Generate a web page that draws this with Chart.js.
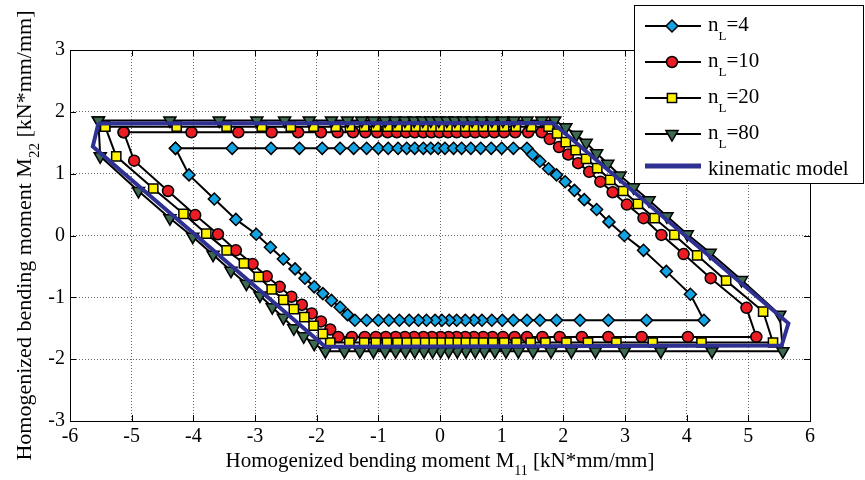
<!DOCTYPE html>
<html>
<head>
<meta charset="utf-8">
<title>Homogenized bending moment loops</title>
<script src="https://cdn.jsdelivr.net/npm/chart.js@4.4.1/dist/chart.umd.min.js"></script>
<style>
  html, body { margin: 0; padding: 0; background: #fff; }
  #wrap { width: 865px; height: 480px; }
</style>
</head>
<body>
<div id="wrap"><canvas id="loops" width="865" height="480"></canvas></div>
<script>
// axis ticks
const xTicks = [-6, -5, -4, -3, -2, -1, 0, 1, 2, 3, 4, 5, 6];
const yTicks = [-3, -2, -1, 0, 1, 2, 3];

// loops, [M11, M22]
const nL4 = [
  [-4.29,1.41],[-3.37,1.41],[-2.74,1.41],[-2.28,1.41],[-1.91,1.41],[-1.62,1.41],[-1.40,1.41],[-1.19,1.41],[-1.00,1.41],
  [-0.84,1.41],[-0.68,1.41],[-0.54,1.41],[-0.41,1.41],[-0.27,1.41],[-0.15,1.41],[-0.03,1.41],[0.08,1.41],[0.22,1.41],
  [0.35,1.41],[0.50,1.41],[0.66,1.41],[0.83,1.41],[1.00,1.41],[1.19,1.41],[1.41,1.41],
  [1.50,1.31],[1.62,1.20],[1.76,1.08],[1.89,0.98],[2.03,0.87],[2.18,0.73],[2.34,0.58],[2.54,0.42],[2.74,0.22],
  [2.99,0.00],[3.30,-0.24],[3.67,-0.58],[4.06,-0.95],[4.28,-1.37],
  [3.35,-1.37],[2.73,-1.37],[2.27,-1.37],[1.89,-1.37],[1.62,-1.37],[1.41,-1.37],[1.19,-1.37],[1.01,-1.37],[0.84,-1.37],
  [0.68,-1.37],[0.55,-1.37],[0.41,-1.37],[0.27,-1.37],[0.15,-1.37],[0.03,-1.37],[-0.08,-1.37],[-0.22,-1.37],[-0.35,-1.37],
  [-0.50,-1.37],[-0.66,-1.37],[-0.83,-1.37],[-1.00,-1.37],[-1.19,-1.37],[-1.38,-1.37],
  [-1.50,-1.28],[-1.62,-1.16],[-1.76,-1.05],[-1.90,-0.94],[-2.04,-0.83],[-2.19,-0.69],[-2.35,-0.54],[-2.54,-0.38],
  [-2.75,-0.19],[-2.98,0.02],[-3.31,0.26],[-3.66,0.59],[-4.07,0.98],[-4.29,1.41]
];

const nL10 = [
  [-5.13,1.67],[-4.03,1.67],[-3.27,1.67],[-2.73,1.67],[-2.30,1.67],[-1.93,1.67],[-1.66,1.67],[-1.41,1.67],[-1.21,1.67],
  [-1.02,1.67],[-0.85,1.67],[-0.70,1.67],[-0.55,1.67],[-0.41,1.67],[-0.27,1.67],[-0.14,1.67],[-0.01,1.67],[0.13,1.67],
  [0.27,1.67],[0.42,1.67],[0.57,1.67],[0.72,1.67],[0.88,1.67],[1.04,1.67],[1.22,1.67],[1.43,1.67],[1.65,1.67],
  [1.78,1.56],[1.93,1.43],[2.08,1.31],[2.24,1.17],[2.42,1.03],[2.60,0.87],[2.80,0.70],[3.03,0.50],[3.30,0.28],
  [3.59,0.01],[3.95,-0.30],[4.39,-0.69],[4.97,-1.17],[5.13,-1.64],
  [4.02,-1.64],[3.27,-1.64],[2.73,-1.64],[2.30,-1.64],[1.94,-1.64],[1.66,-1.64],[1.41,-1.64],[1.21,-1.64],[1.02,-1.64],
  [0.85,-1.64],[0.70,-1.64],[0.55,-1.64],[0.41,-1.64],[0.27,-1.64],[0.14,-1.64],[0.01,-1.64],[-0.13,-1.64],[-0.27,-1.64],
  [-0.42,-1.64],[-0.57,-1.64],[-0.72,-1.64],[-0.88,-1.64],[-1.04,-1.64],[-1.22,-1.64],[-1.43,-1.64],[-1.65,-1.64],
  [-1.78,-1.52],[-1.93,-1.39],[-2.08,-1.26],[-2.24,-1.12],[-2.41,-0.99],[-2.60,-0.83],[-2.81,-0.66],[-3.04,-0.46],
  [-3.31,-0.24],[-3.60,0.02],[-3.97,0.33],[-4.41,0.72],[-4.96,1.21],[-5.13,1.67]
];

const nL20 = [
  [-5.43,1.76],[-4.27,1.76],[-3.46,1.76],[-2.89,1.76],[-2.42,1.76],[-2.05,1.76],[-1.69,1.76],[-1.46,1.76],[-1.23,1.76],
  [-1.04,1.76],[-0.85,1.76],[-0.69,1.76],[-0.54,1.76],[-0.39,1.76],[-0.25,1.76],[-0.12,1.76],[0.01,1.76],[0.14,1.76],
  [0.27,1.76],[0.41,1.76],[0.55,1.76],[0.70,1.76],[0.86,1.76],[1.04,1.76],[1.23,1.76],[1.48,1.76],[1.76,1.76],
  [1.90,1.65],[2.04,1.51],[2.20,1.38],[2.37,1.24],[2.55,1.09],[2.76,0.90],[2.97,0.72],[3.21,0.51],[3.48,0.28],
  [3.80,0.01],[4.17,-0.32],[4.64,-0.73],[5.24,-1.23],[5.40,-1.73],
  [4.24,-1.73],[3.45,-1.73],[2.86,-1.73],[2.40,-1.73],[2.05,-1.73],[1.71,-1.73],[1.47,-1.73],[1.24,-1.73],[1.04,-1.73],
  [0.86,-1.73],[0.70,-1.73],[0.55,-1.73],[0.41,-1.73],[0.27,-1.73],[0.14,-1.73],[0.01,-1.73],[-0.12,-1.73],[-0.25,-1.73],
  [-0.39,-1.73],[-0.54,-1.73],[-0.69,-1.73],[-0.86,-1.73],[-1.04,-1.73],[-1.23,-1.73],[-1.47,-1.73],[-1.78,-1.73],
  [-1.90,-1.59],[-2.05,-1.46],[-2.20,-1.32],[-2.37,-1.19],[-2.54,-1.04],[-2.73,-0.87],[-2.94,-0.67],[-3.18,-0.45],
  [-3.46,-0.24],[-3.79,0.03],[-4.16,0.35],[-4.65,0.76],[-5.25,1.28],[-5.43,1.76]
];

const nL80 = [
  [-5.54,1.86],[-4.38,1.86],[-3.58,1.86],[-2.97,1.86],[-2.52,1.86],[-2.12,1.86],[-1.76,1.86],[-1.50,1.86],[-1.27,1.86],
  [-1.08,1.86],[-0.89,1.86],[-0.73,1.86],[-0.57,1.86],[-0.42,1.86],[-0.28,1.86],[-0.15,1.86],[-0.02,1.86],[0.11,1.86],
  [0.24,1.86],[0.38,1.86],[0.52,1.86],[0.68,1.86],[0.84,1.86],[1.02,1.86],[1.20,1.86],[1.41,1.86],[1.65,1.86],[1.86,1.86],
  [2.04,1.75],[2.21,1.63],[2.37,1.50],[2.54,1.33],[2.72,1.16],[2.92,0.97],[3.14,0.78],[3.39,0.57],[3.68,0.31],
  [4.01,0.02],[4.38,-0.28],[4.89,-0.72],[5.51,-1.28],[5.56,-1.87],
  [4.41,-1.87],[3.58,-1.87],[2.99,-1.87],[2.52,-1.87],[2.13,-1.87],[1.80,-1.87],[1.51,-1.87],[1.27,-1.87],[1.07,-1.87],
  [0.89,-1.87],[0.72,-1.87],[0.57,-1.87],[0.42,-1.87],[0.28,-1.87],[0.14,-1.87],[0.01,-1.87],[-0.12,-1.87],[-0.26,-1.87],
  [-0.41,-1.87],[-0.56,-1.87],[-0.72,-1.87],[-0.89,-1.87],[-1.08,-1.87],[-1.30,-1.87],[-1.55,-1.87],[-1.86,-1.87],
  [-2.04,-1.75],[-2.21,-1.63],[-2.37,-1.50],[-2.54,-1.33],[-2.72,-1.16],[-2.92,-0.97],[-3.14,-0.78],[-3.39,-0.57],
  [-3.68,-0.31],[-4.01,-0.02],[-4.38,0.28],[-4.89,0.72],[-5.51,1.28],[-5.54,1.86]
];

const kinematic = [
  [-5.54,1.81],[1.83,1.82],[5.65,-1.42],[5.54,-1.78],[-1.86,-1.80],[-5.63,1.44],[-5.54,1.81]
];

const serif = '"Liberation Serif", "Times New Roman", serif';

// legend rows: [main text, subscript, rest, style key]
const legendRows = [
  ['n', 'L', '=4', 'n4'],
  ['n', 'L', '=10', 'n10'],
  ['n', 'L', '=20', 'n20'],
  ['n', 'L', '=80', 'n80'],
  ['kinematic model', '', '', 'kin']
];

const markers = {
  n4:  { pointStyle: 'rectRot',  radius: 6,   rotation: 0,   fill: '#12a4e3' },
  n10: { pointStyle: 'circle',   radius: 5.5, rotation: 0,   fill: '#ec1c24' },
  n20: { pointStyle: 'rect',     radius: 6.5, rotation: 0,   fill: '#fff200' },
  n80: { pointStyle: 'triangle', radius: 7,   rotation: 180, fill: '#3c6b50' }
};
const kinColor = '#2e3192';

function toPoints(pairs) {
  return pairs.map(p => ({ x: p[0], y: p[1] }));
}

function loopDataset(pairs, key, order) {
  const m = markers[key];
  return {
    data: toPoints(pairs),
    showLine: true,
    borderColor: '#000',
    borderWidth: 2,
    pointStyle: m.pointStyle,
    pointRadius: m.radius,
    pointRotation: m.rotation,
    pointBackgroundColor: m.fill,
    pointBorderColor: '#000',
    pointBorderWidth: 1.5,
    order: order
  };
}

// draws "text" with optional subscript, returns the width used
function richText(ctx, main, sub, rest, x, y, size, subSize, subDrop) {
  ctx.font = size + 'px ' + serif;
  const w1 = ctx.measureText(main).width;
  ctx.font = subSize + 'px ' + serif;
  const w2 = ctx.measureText(sub).width;
  ctx.font = size + 'px ' + serif;
  const w3 = ctx.measureText(rest).width;
  return {
    width: w1 + w2 + w3,
    draw() {
      ctx.textAlign = 'left';
      ctx.textBaseline = 'alphabetic';
      ctx.font = size + 'px ' + serif;
      ctx.fillText(main, x, y);
      ctx.font = subSize + 'px ' + serif;
      ctx.fillText(sub, x + w1, y + subDrop);
      ctx.font = size + 'px ' + serif;
      ctx.fillText(rest, x + w1 + w2, y);
    }
  };
}

const framePlugin = {
  id: 'frame',
  afterDatasetsDraw(chart) {
    const { ctx, chartArea: a, scales } = chart;
    ctx.save();
    ctx.strokeStyle = '#000';
    ctx.lineWidth = 1;
    ctx.strokeRect(a.left + 0.5, a.top + 0.5, a.right - a.left, a.bottom - a.top);
    ctx.beginPath();
    xTicks.forEach(v => {
      const px = Math.round(scales.x.getPixelForValue(v)) + 0.5;
      ctx.moveTo(px, a.bottom); ctx.lineTo(px, a.bottom - 6);
      ctx.moveTo(px, a.top); ctx.lineTo(px, a.top + 6);
    });
    yTicks.forEach(v => {
      const py = Math.round(scales.y.getPixelForValue(v)) + 0.5;
      ctx.moveTo(a.left, py); ctx.lineTo(a.left + 6, py);
      ctx.moveTo(a.right, py); ctx.lineTo(a.right - 6, py);
    });
    ctx.stroke();
    ctx.restore();
  },
  afterDraw(chart) {
    const { ctx, chartArea: a } = chart;
    ctx.save();
    ctx.fillStyle = '#000';

    // x axis title
    const cx = (a.left + a.right) / 2;
    let t = richText(ctx, 'Homogenized bending moment M', '11', ' [kN*mm/mm]', 0, 0, 21, 14, 8);
    t = richText(ctx, 'Homogenized bending moment M', '11', ' [kN*mm/mm]', cx - t.width / 2, 467, 21, 14, 8);
    t.draw();

    // y axis title
    const cy = (a.top + a.bottom) / 2;
    ctx.save();
    ctx.translate(31, cy);
    ctx.rotate(-Math.PI / 2);
    let u = richText(ctx, 'Homogenized bending moment M', '22', ' [kN*mm/mm]', 0, 0, 22, 15, 8);
    u = richText(ctx, 'Homogenized bending moment M', '22', ' [kN*mm/mm]', -u.width / 2, 0, 22, 15, 8);
    u.draw();
    ctx.restore();

    // legend box
    const lx = 634, ly = 5, lw = 229, lh = 178;
    ctx.fillStyle = '#fff';
    ctx.fillRect(lx, ly, lw, lh);
    ctx.strokeStyle = '#000';
    ctx.lineWidth = 1;
    ctx.strokeRect(lx + 0.5, ly + 0.5, lw, lh);

    const rowY = [26, 62, 98, 134, 166];
    legendRows.forEach((row, i) => {
      const yy = rowY[i];
      const key = row[3];
      ctx.beginPath();
      ctx.moveTo(645, yy);
      ctx.lineTo(701, yy);
      if (key === 'kin') {
        ctx.strokeStyle = kinColor;
        ctx.lineWidth = 5;
      } else {
        ctx.strokeStyle = '#000';
        ctx.lineWidth = 2;
      }
      ctx.stroke();
      if (key !== 'kin') {
        const m = markers[key];
        ctx.fillStyle = m.fill;
        ctx.strokeStyle = '#000';
        ctx.lineWidth = 1.5;
        Chart.helpers.drawPoint(ctx, {
          pointStyle: m.pointStyle, radius: m.radius, rotation: m.rotation, borderWidth: 1.5
        }, 672, yy);
      }
      ctx.fillStyle = '#000';
      if (key === 'kin') {
        richText(ctx, row[0], '', '', 708, yy + 9, 21, 13, 0).draw();
      } else {
        richText(ctx, row[0], row[1], row[2], 708, yy + 5, 21, 13, 9).draw();
      }
    });
    ctx.restore();
  }
};

const tickFont = { family: serif, size: 20 };

new Chart(document.getElementById('loops'), {
  type: 'scatter',
  data: {
    datasets: [
      {
        data: toPoints(kinematic),
        showLine: true,
        borderColor: kinColor,
        borderWidth: 4,
        pointRadius: 0,
        order: 0
      },
      loopDataset(nL80, 'n80', 1),
      loopDataset(nL20, 'n20', 2),
      loopDataset(nL10, 'n10', 3),
      loopDataset(nL4, 'n4', 4)
    ]
  },
  options: {
    responsive: false,
    animation: false,
    events: [],
    layout: { padding: { left: 0, right: 55, top: 50, bottom: 0 } },
    plugins: {
      legend: { display: false },
      tooltip: { enabled: false },
      title: { display: false }
    },
    scales: {
      x: {
        type: 'linear',
        min: -6,
        max: 6,
        afterFit(scale) { scale.height = 59; },
        afterBuildTicks(scale) { scale.ticks = xTicks.map(v => ({ value: v })); },
        ticks: { font: tickFont, color: '#000', padding: 4, maxRotation: 0 },
        grid: { color: 'rgba(0,0,0,0.6)', lineWidth: 1, drawTicks: false },
        border: { display: false, dash: [1, 2] }
      },
      y: {
        type: 'linear',
        min: -3,
        max: 3,
        afterFit(scale) { scale.width = 70; },
        afterBuildTicks(scale) { scale.ticks = yTicks.map(v => ({ value: v })); },
        ticks: { font: tickFont, color: '#000', padding: 5 },
        grid: { color: 'rgba(0,0,0,0.6)', lineWidth: 1, drawTicks: false },
        border: { display: false, dash: [1, 2] }
      }
    }
  },
  plugins: [framePlugin]
});
</script>
</body>
</html>
